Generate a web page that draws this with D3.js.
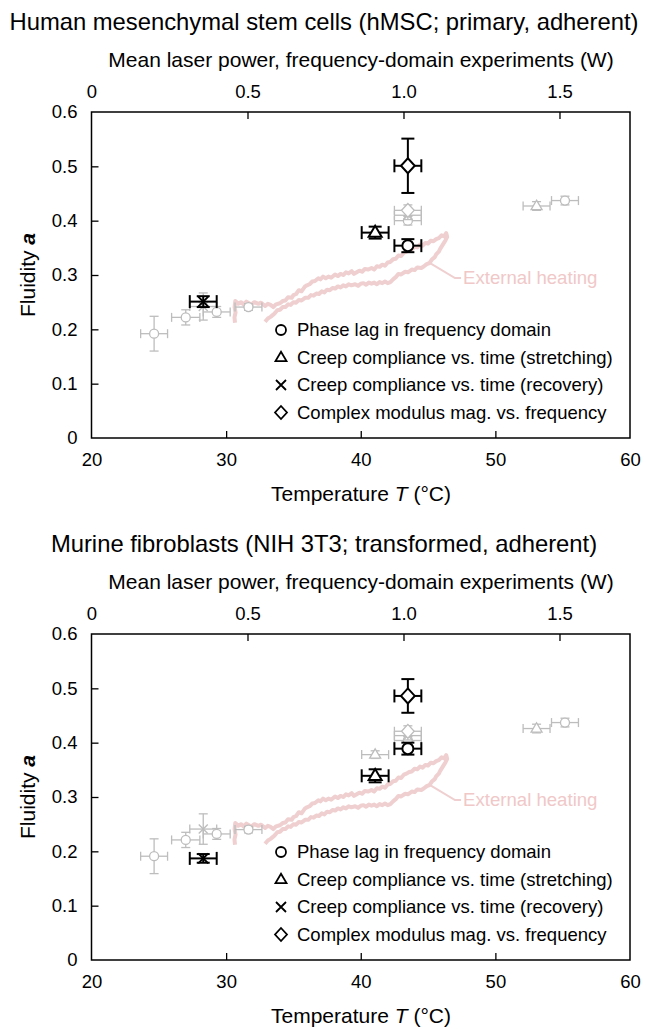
<!DOCTYPE html>
<html>
<head>
<meta charset="utf-8">
<script src="https://cdn.jsdelivr.net/npm/d3@7/dist/d3.min.js"></script>
<style>
  html, body { margin: 0; padding: 0; background: #fff; }
  svg { display: block; font-family: "Liberation Sans", Arial, sans-serif; }
</style>
</head>
<body>
<svg id="chart" width="646" height="1029"></svg>
<script>
// ---------------- DATA ----------------
const panelTitles = [
  "Human mesenchymal stem cells (hMSC; primary, adherent)",
  "Murine fibroblasts (NIH 3T3; transformed, adherent)"
];
const legendLabels = [
  "Phase lag in frequency domain",
  "Creep compliance vs. time (stretching)",
  "Creep compliance vs. time (recovery)",
  "Complex modulus mag. vs. frequency"
];
const legendSymbols = ["circle", "triangle", "cross", "diamond"];
const tempTicks = [20, 30, 40, 50, 60];
const powerTicks = [0, 0.5, 1.0, 1.5];
const powerTickLabels = ["0", "0.5", "1.0", "1.5"];
const fluidTicks = [0, 0.1, 0.2, 0.3, 0.4, 0.5, 0.6];
const fluidTickLabels = ["0", "0.1", "0.2", "0.3", "0.4", "0.5", "0.6"];

// points: [symbol, T (°C), a, dT, da]
const hmscBlack = [
  ["circle",   43.5, 0.354, 1.0, 0.012],
  ["triangle", 41.07, 0.378, 1.0, 0.011],
  ["cross",    28.3, 0.251, 1.0, 0.010],
  ["diamond",  43.5, 0.501, 1.0, 0.050]
];
const hmscGray = [
  ["circle",   24.65, 0.192, 1.0, 0.032],
  ["circle",   27.0,  0.222, 1.05, 0.014],
  ["cross",    28.3,  0.242, 1.0, 0.025],
  ["circle",   29.3,  0.232, 1.0, 0.010],
  ["circle",   31.66, 0.241, 1.0, 0.006],
  ["circle",   43.5,  0.400, 1.0, 0.008],
  ["cross",    43.5,  0.410, 1.0, 0.008],
  ["diamond",  43.5,  0.419, 1.0, 0.010],
  ["triangle", 53.06, 0.427, 1.0, 0.008],
  ["circle",   55.17, 0.437, 1.0, 0.008]
];
const nihBlack = [
  ["circle",   43.5, 0.389, 1.0, 0.011],
  ["triangle", 41.07, 0.339, 1.0, 0.012],
  ["cross",    28.3, 0.187, 1.0, 0.008],
  ["diamond",  43.5, 0.486, 1.0, 0.031]
];
const nihGray = [
  ["circle",   24.65, 0.191, 1.0, 0.032],
  ["circle",   27.0,  0.221, 1.05, 0.014],
  ["cross",    28.3,  0.241, 1.0, 0.028],
  ["circle",   29.3,  0.232, 1.0, 0.010],
  ["circle",   31.66, 0.240, 1.0, 0.006],
  ["triangle", 41.07, 0.378, 1.0, 0.007],
  ["circle",   43.5,  0.404, 1.0, 0.008],
  ["cross",    43.5,  0.413, 1.0, 0.008],
  ["diamond",  43.5,  0.421, 1.0, 0.010],
  ["triangle", 53.06, 0.426, 1.0, 0.008],
  ["circle",   55.17, 0.437, 1.0, 0.008]
];

// External heating trace (T in °C, a), read along the loop
const heatingT = [30.66,30.62,30.70,30.63,30.68,30.9,31.1,31.3,31.5,31.7,31.9,32.1,32.4,32.6,32.9,33.1,33.3,33.5,33.7,34.0,34.2,34.4,34.6,34.87,35.0,35.2,35.4,35.6,35.86,36.0,36.2,36.4,36.6,36.85,37.0,37.2,37.4,37.6,37.8,38.09,38.3,38.5,38.7,38.9,39.1,39.33,39.5,39.7,39.9,40.1,40.3,40.56,40.8,41.0,41.2,41.4,41.6,41.8,42.0,42.2,42.4,42.6,42.8,43.0,43.2,43.4,43.6,43.8,44.0,44.2,44.4,44.6,44.8,45.0,45.2,45.4,45.6,45.8,46.0,46.2,46.35,
  46.42,46.3,46.2,46.05,45.9,45.8,45.6,45.5,45.3,45.1,44.9,44.7,44.5,44.2,44.0,43.79,43.5,43.3,43.0,42.79,42.6,42.4,42.2,42.0,41.8,41.6,41.4,41.2,41.0,40.8,40.6,40.4,40.2,40.0,39.8,39.58,39.3,39.1,38.9,38.7,38.5,38.3,38.1,37.9,37.7,37.5,37.3,37.1,36.9,36.7,36.5,36.3,36.1,35.86,35.6,35.4,35.2,35.0,34.8,34.62,34.4,34.2,34.0,33.8,33.63,33.5,33.3,33.1,32.89];
const heatingA = [0.212,0.222,0.231,0.241,0.252,0.247,0.250,0.246,0.251,0.248,0.246,0.250,0.247,0.249,0.243,0.247,0.245,0.241,0.246,0.248,0.252,0.253,0.259,0.258,0.263,0.265,0.272,0.270,0.279,0.281,0.283,0.288,0.289,0.294,0.292,0.297,0.294,0.297,0.295,0.301,0.298,0.302,0.300,0.305,0.303,0.307,0.302,0.305,0.308,0.306,0.311,0.310,0.313,0.310,0.316,0.315,0.319,0.317,0.323,0.324,0.329,0.330,0.336,0.335,0.341,0.343,0.346,0.347,0.352,0.351,0.356,0.354,0.359,0.358,0.363,0.362,0.366,0.368,0.373,0.371,0.377,
  0.370,0.364,0.360,0.354,0.348,0.343,0.338,0.333,0.329,0.322,0.320,0.316,0.313,0.314,0.309,0.310,0.305,0.306,0.301,0.302,0.296,0.292,0.287,0.285,0.288,0.285,0.287,0.283,0.286,0.284,0.286,0.282,0.285,0.284,0.280,0.283,0.281,0.283,0.279,0.281,0.277,0.279,0.275,0.276,0.272,0.273,0.268,0.270,0.265,0.266,0.262,0.263,0.258,0.258,0.253,0.254,0.249,0.250,0.245,0.246,0.241,0.241,0.236,0.235,0.230,0.227,0.223,0.220,0.214];
const heatingLabel = "External heating";
const heatingLeader = [[45.15, 0.322], [47.0, 0.2945], [47.45, 0.2945]];
const heatingLabelPos = [47.6, 0.2945];

// ---------------- LAYOUT ----------------
const svg = d3.select("#chart");
const left = 91.5, right = 630;
const panelTops = [112, 634];
const panelHeight = 326;

const BLACK = "#000";
const GRAY = "#bdbdbd";
const PINK = "#efcfcf";

function symbolPath(sym, s) {
  switch (sym) {
    case "triangle": {
      const h = s * 1.7;
      return `M0,${-h*0.62}L${s},${h*0.38}L${-s},${h*0.38}Z`;
    }
    case "cross": return `M${-s},${-s}L${s},${s}M${-s},${s}L${s},${-s}`;
    case "diamond": return `M0,${-s*1.25}L${s*1.15},0L0,${s*1.25}L${-s*1.15},0Z`;
  }
  return null;
}

function drawMarker(g, sym, x, y, color, size, sw) {
  if (sym === "circle") {
    g.append("circle").attr("cx", x).attr("cy", y).attr("r", size)
      .attr("fill", "#fff").attr("stroke", color).attr("stroke-width", sw);
  } else {
    g.append("path").attr("d", symbolPath(sym, size))
      .attr("transform", `translate(${x},${y})`)
      .attr("fill", sym === "cross" ? "none" : "#fff")
      .attr("stroke", color).attr("stroke-width", sw)
      .attr("stroke-linejoin", "miter");
  }
}

function drawPoints(g, pts, xs, ys, color, sizes, sw, cap) {
  pts.forEach(p => {
    const [sym, T, a, dT, da] = p;
    const x = xs(T), y = ys(a);
    const x0 = xs(T - dT), x1 = xs(T + dT);
    const y0 = ys(a - da), y1 = ys(a + da);
    const eg = g.append("g").attr("stroke", color).attr("stroke-width", sw).attr("fill", "none");
    eg.append("line").attr("x1", x0).attr("x2", x1).attr("y1", y).attr("y2", y);
    eg.append("line").attr("x1", x0).attr("x2", x0).attr("y1", y - cap/2).attr("y2", y + cap/2);
    eg.append("line").attr("x1", x1).attr("x2", x1).attr("y1", y - cap/2).attr("y2", y + cap/2);
    eg.append("line").attr("x1", x).attr("x2", x).attr("y1", y0).attr("y2", y1);
    eg.append("line").attr("x1", x - cap/2).attr("x2", x + cap/2).attr("y1", y0).attr("y2", y0);
    eg.append("line").attr("x1", x - cap/2).attr("x2", x + cap/2).attr("y1", y1).attr("y2", y1);
    drawMarker(g, sym, x, y, color, sizes[sym], sw);
  });
}

const blackSizes = { circle: 5.5, triangle: 6.5, cross: 5, diamond: 6 };
const graySizes = { circle: 4.5, triangle: 5.5, cross: 4.5, diamond: 5.5 };

function drawPanel(idx, black, gray) {
  const top = panelTops[idx];
  const bottom = top + panelHeight;
  const g = svg.append("g");

  const xs = d3.scaleLinear().domain([20, 60]).range([left, right]);
  const ps = d3.scaleLinear().domain([0, 1.726]).range([left, right]);
  const ys = d3.scaleLinear().domain([0, 0.6]).range([bottom, top]);

  // Titles
  g.append("text").attr("x", 324).attr("y", top - 82)
    .attr("text-anchor", "middle").attr("font-size", 23.8).attr("fill", "#000")
    .text(panelTitles[idx]);
  g.append("text").attr("x", 361).attr("y", top - 45)
    .attr("text-anchor", "middle").attr("font-size", 21).attr("fill", "#000")
    .text("Mean laser power, frequency-domain experiments (W)");

  // Axes (ticks pointing inward)
  const axB = d3.axisBottom(xs).tickValues(tempTicks).tickSize(-7).tickPadding(15).tickFormat(d3.format("d"));
  const axT = d3.axisTop(ps).tickValues(powerTicks).tickSize(-7).tickPadding(14)
    .tickFormat((d, i) => powerTickLabels[i]);
  const axL = d3.axisLeft(ys).tickValues(fluidTicks).tickSize(-7).tickPadding(14)
    .tickFormat((d, i) => fluidTickLabels[i]);

  [[axB, `translate(0,${bottom})`], [axT, `translate(0,${top})`], [axL, `translate(${left},0)`]].forEach(([ax, tr]) => {
    const a = g.append("g").attr("transform", tr).call(ax);
    a.select(".domain").remove();
    a.selectAll(".tick line").attr("stroke", "#000").attr("stroke-width", 1.3);
    a.selectAll(".tick text").attr("font-size", 18.5).attr("fill", "#000")
      .attr("font-family", "Liberation Sans, Arial, sans-serif");
  });
  g.selectAll(".tick").filter(d => d === 0 || d === 20 || d === 60 || d === 0.6)
    .select("line").remove();

  // frame
  g.append("rect").attr("x", left).attr("y", top).attr("width", right - left).attr("height", bottom - top)
    .attr("fill", "none").attr("stroke", "#000").attr("stroke-width", 1.5);

  // axis titles
  const yl = g.append("text").attr("transform", `translate(35,${(top + bottom) / 2}) rotate(-90)`)
    .attr("text-anchor", "middle").attr("font-size", 21).attr("fill", "#000");
  yl.append("tspan").text("Fluidity ");
  yl.append("tspan").attr("font-style", "italic").attr("font-weight", "bold").text("a");

  const xl = g.append("text").attr("x", 361).attr("y", bottom + 63)
    .attr("text-anchor", "middle").attr("font-size", 21).attr("fill", "#000");
  xl.append("tspan").text("Temperature ");
  xl.append("tspan").attr("font-style", "italic").text("T");
  xl.append("tspan").text(" (°C)");

  // heating curve
  const line = d3.line().x(d => xs(d[0])).y(d => ys(d[1]));
  const hpts = heatingT.map((t, i) => [t, heatingA[i]]);
  g.append("path").attr("d", line(hpts)).attr("fill", "none")
    .attr("stroke", PINK).attr("stroke-width", 4).attr("stroke-linejoin", "round");
  g.append("path").attr("d", line(heatingLeader)).attr("fill", "none")
    .attr("stroke", PINK).attr("stroke-width", 2);
  g.append("text").attr("x", xs(heatingLabelPos[0])).attr("y", ys(heatingLabelPos[1]))
    .attr("dy", "0.35em").attr("font-size", 18.6).attr("fill", "#f0c8c8").text(heatingLabel);

  // points
  drawPoints(g, gray, xs, ys, GRAY, graySizes, 1.3, 9);
  drawPoints(g, black, xs, ys, BLACK, blackSizes, 2, 13);

  // legend
  const lg = g.append("g");
  legendLabels.forEach((lab, i) => {
    const ly = top + 218 + i * 27.5;
    drawMarker(lg, legendSymbols[i], 281, ly, BLACK, { circle: 5, triangle: 5.5, cross: 5, diamond: 5.2 }[legendSymbols[i]], 1.8);
    lg.append("text").attr("x", 297).attr("y", ly).attr("dy", "0.35em")
      .attr("font-size", 18.5).attr("fill", "#000").text(lab);
  });
}

drawPanel(0, hmscBlack, hmscGray);
drawPanel(1, nihBlack, nihGray);
</script>
</body>
</html>
